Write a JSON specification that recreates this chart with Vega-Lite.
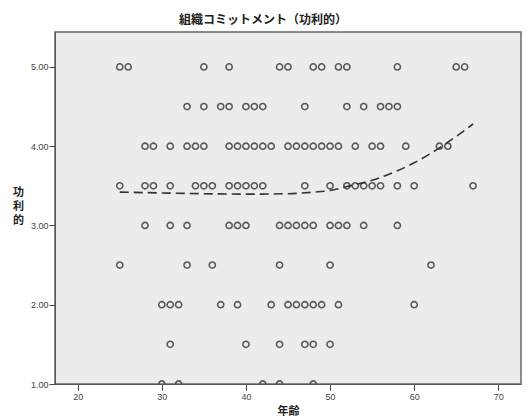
{
  "$schema": "https://vega.github.io/schema/vega-lite/v6.json",
  "width": 466,
  "height": 352,
  "autosize": {"type": "none"},
  "padding": {"left": 55, "top": 32, "right": 6, "bottom": 35},
  "background": "white",
  "config": {
    "view": {"fill": "#ececec", "stroke": "#666666", "strokeWidth": 1.5},
    "axis": {"labelFont": "Liberation Sans", "labelFontSize": 9, "labelColor": "#444444", "domainColor": "#555555", "tickColor": "#444444", "tickSize": 6, "grid": false, "titleFont": "Noto Sans CJK JP", "titleFontWeight": "bold", "titleFontSize": 11, "titleColor": "#222222"}
  },
  "title": {"text": "組織コミットメント（功利的）", "font": "Noto Sans CJK JP", "fontSize": 12, "fontWeight": "bold", "color": "#222222", "anchor": "middle", "dx": -25, "offset": 5},
  "datasets": {
    "pts": [
      {"age": 25, "value": 5.0}, {"age": 26, "value": 5.0}, {"age": 35, "value": 5.0}, {"age": 38, "value": 5.0}, {"age": 44, "value": 5.0}, {"age": 45, "value": 5.0}, {"age": 48, "value": 5.0}, {"age": 49, "value": 5.0}, {"age": 51, "value": 5.0}, {"age": 52, "value": 5.0}, {"age": 58, "value": 5.0}, {"age": 65, "value": 5.0}, {"age": 66, "value": 5.0},
      {"age": 33, "value": 4.5}, {"age": 35, "value": 4.5}, {"age": 37, "value": 4.5}, {"age": 38, "value": 4.5}, {"age": 40, "value": 4.5}, {"age": 41, "value": 4.5}, {"age": 42, "value": 4.5}, {"age": 47, "value": 4.5}, {"age": 52, "value": 4.5}, {"age": 54, "value": 4.5}, {"age": 56, "value": 4.5}, {"age": 57, "value": 4.5}, {"age": 58, "value": 4.5},
      {"age": 28, "value": 4.0}, {"age": 29, "value": 4.0}, {"age": 31, "value": 4.0}, {"age": 33, "value": 4.0}, {"age": 34, "value": 4.0}, {"age": 35, "value": 4.0}, {"age": 38, "value": 4.0}, {"age": 39, "value": 4.0}, {"age": 40, "value": 4.0}, {"age": 41, "value": 4.0}, {"age": 42, "value": 4.0}, {"age": 43, "value": 4.0}, {"age": 45, "value": 4.0}, {"age": 46, "value": 4.0}, {"age": 47, "value": 4.0}, {"age": 48, "value": 4.0}, {"age": 49, "value": 4.0}, {"age": 50, "value": 4.0}, {"age": 51, "value": 4.0}, {"age": 53, "value": 4.0}, {"age": 55, "value": 4.0}, {"age": 56, "value": 4.0}, {"age": 59, "value": 4.0}, {"age": 63, "value": 4.0}, {"age": 64, "value": 4.0},
      {"age": 25, "value": 3.5}, {"age": 28, "value": 3.5}, {"age": 29, "value": 3.5}, {"age": 31, "value": 3.5}, {"age": 34, "value": 3.5}, {"age": 35, "value": 3.5}, {"age": 36, "value": 3.5}, {"age": 38, "value": 3.5}, {"age": 39, "value": 3.5}, {"age": 40, "value": 3.5}, {"age": 41, "value": 3.5}, {"age": 42, "value": 3.5}, {"age": 47, "value": 3.5}, {"age": 50, "value": 3.5}, {"age": 52, "value": 3.5}, {"age": 53, "value": 3.5}, {"age": 54, "value": 3.5}, {"age": 55, "value": 3.5}, {"age": 56, "value": 3.5}, {"age": 58, "value": 3.5}, {"age": 60, "value": 3.5}, {"age": 67, "value": 3.5},
      {"age": 28, "value": 3.0}, {"age": 31, "value": 3.0}, {"age": 33, "value": 3.0}, {"age": 38, "value": 3.0}, {"age": 39, "value": 3.0}, {"age": 40, "value": 3.0}, {"age": 44, "value": 3.0}, {"age": 45, "value": 3.0}, {"age": 46, "value": 3.0}, {"age": 47, "value": 3.0}, {"age": 48, "value": 3.0}, {"age": 50, "value": 3.0}, {"age": 51, "value": 3.0}, {"age": 52, "value": 3.0}, {"age": 54, "value": 3.0}, {"age": 58, "value": 3.0},
      {"age": 25, "value": 2.5}, {"age": 33, "value": 2.5}, {"age": 36, "value": 2.5}, {"age": 44, "value": 2.5}, {"age": 50, "value": 2.5}, {"age": 62, "value": 2.5},
      {"age": 30, "value": 2.0}, {"age": 31, "value": 2.0}, {"age": 32, "value": 2.0}, {"age": 37, "value": 2.0}, {"age": 39, "value": 2.0}, {"age": 43, "value": 2.0}, {"age": 45, "value": 2.0}, {"age": 46, "value": 2.0}, {"age": 47, "value": 2.0}, {"age": 48, "value": 2.0}, {"age": 49, "value": 2.0}, {"age": 51, "value": 2.0}, {"age": 60, "value": 2.0},
      {"age": 31, "value": 1.5}, {"age": 40, "value": 1.5}, {"age": 44, "value": 1.5}, {"age": 47, "value": 1.5}, {"age": 48, "value": 1.5}, {"age": 50, "value": 1.5},
      {"age": 30, "value": 1.0}, {"age": 32, "value": 1.0}, {"age": 42, "value": 1.0}, {"age": 44, "value": 1.0}, {"age": 48, "value": 1.0}
    ],
    "fit": [
      {"age": 25, "value": 3.42}, {"age": 30, "value": 3.41}, {"age": 35, "value": 3.40}, {"age": 40, "value": 3.395}, {"age": 45, "value": 3.40}, {"age": 48, "value": 3.42}, {"age": 50, "value": 3.44}, {"age": 52, "value": 3.49}, {"age": 55, "value": 3.57}, {"age": 58, "value": 3.69}, {"age": 60, "value": 3.79}, {"age": 62, "value": 3.91}, {"age": 64, "value": 4.05}, {"age": 66, "value": 4.20}, {"age": 67, "value": 4.28}
    ]
  },
  "encoding": {
    "x": {"field": "age", "type": "quantitative", "title": "年齢",
      "scale": {"domain": [17.3, 72.7], "nice": false, "zero": false},
      "axis": {"values": [20, 30, 40, 50, 60, 70], "labelPadding": 2, "titleBaseline": "bottom", "titleY": 32}},
    "y": {"field": "value", "type": "quantitative", "title": ["功", "利", "的"],
      "scale": {"domain": [1, 5.44], "nice": false, "zero": false},
      "axis": {"values": [1, 2, 3, 4, 5], "format": ".2f", "labelPadding": 1, "titleAngle": 0, "titleAlign": "center", "titleBaseline": "top", "titleX": -37, "titleY": 154, "titleLineHeight": 14}}
  },
  "layer": [
    {"data": {"name": "pts"}, "mark": {"type": "point", "shape": "circle", "filled": false, "size": 38, "stroke": "#4a4a4a", "strokeWidth": 1.6, "opacity": 0.9, "clip": true}},
    {"data": {"name": "fit"}, "mark": {"type": "line", "interpolate": "monotone", "stroke": "#333333", "strokeWidth": 1.6, "strokeDash": [9, 5]}}
  ]
}
